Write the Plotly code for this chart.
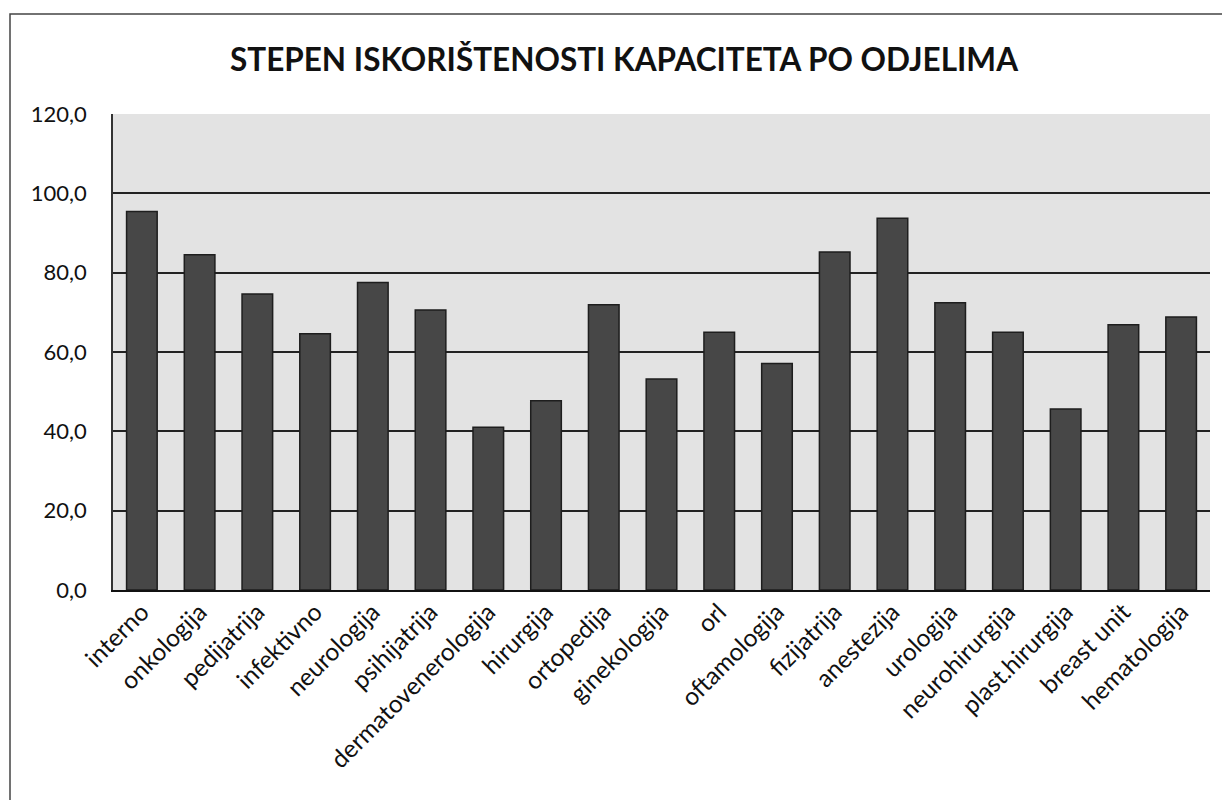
import plotly.graph_objects as go

categories = ["interno", "onkologija", "pedijatrija", "infektivno", "neurologija",
              "psihijatrija", "dermatovenerologija", "hirurgija", "ortopedija",
              "ginekologija", "orl", "oftamologija", "fizijatrija", "anestezija",
              "urologija", "neurohirurgija", "plast.hirurgija", "breast unit", "hematologija"]
values = [95.4, 84.5, 74.6, 64.6, 77.5, 70.6, 41.0, 47.7, 71.9,
          53.2, 65.0, 57.1, 85.2, 93.7, 72.4, 65.0, 45.6, 66.9, 68.8]
y_ticks = [0, 20, 40, 60, 80, 100, 120]
y_tick_labels = ["0,0", "20,0", "40,0", "60,0", "80,0", "100,0", "120,0"]
title_text = "STEPEN ISKORIŠTENOSTI KAPACITETA PO ODJELIMA"

# page body has an 8px default margin; figure coordinates are offset accordingly
OFF = 8
W, H = 1230 - OFF, 800 - OFF
L, T = 113 - OFF, 114 - OFF
R = W - (1210 - OFF)
B = H - (590 - OFF)
pw, ph = W - L - R, H - T - B

fig = go.Figure(go.Bar(
    x=categories, y=values,
    marker=dict(color="#474747", line=dict(color="#1e1e1e", width=1.5)),
))

fig.update_layout(
    width=W, height=H,
    margin=dict(l=L, r=R, t=T, b=B, autoexpand=False),
    paper_bgcolor="white",
    plot_bgcolor="#e3e3e3",
    bargap=0.47,
    showlegend=False,
    font=dict(family="Lato, 'Open Sans', sans-serif", color="#111111"),
    title=dict(text="<b>" + title_text + "</b>", x=(624 - OFF) / W, xref="container", xanchor="center",
               y=1 - (60 - OFF) / H, yref="container", yanchor="middle",
               font=dict(size=31.5, family="Lato, 'Open Sans', sans-serif", color="#111111")),
    xaxis=dict(tickangle=-45, tickfont=dict(size=24.5), showline=True, linecolor="#111111",
               linewidth=2, ticks="", showgrid=False, automargin=False, ticklabelstandoff=-4),
    yaxis=dict(range=[0, 120], tickvals=y_ticks, ticktext=y_tick_labels,
               tickfont=dict(size=22), showgrid=True, gridcolor="#222222", gridwidth=1.5,
               showline=True, linecolor="#333333", linewidth=1.5, ticks="", zeroline=False,
               ticklabelstandoff=20, automargin=False),
    shapes=[dict(type="rect", xref="paper", yref="paper",
                 x0=(10 - OFF - L) / pw, x1=(W + 10 - L) / pw,
                 y0=(ph - (H + 10 - T)) / ph, y1=(ph - (14 - OFF - T)) / ph,
                 line=dict(color="#444444", width=1.5), fillcolor="rgba(0,0,0,0)", layer="below")],
)

fig.write_html("out.html")
